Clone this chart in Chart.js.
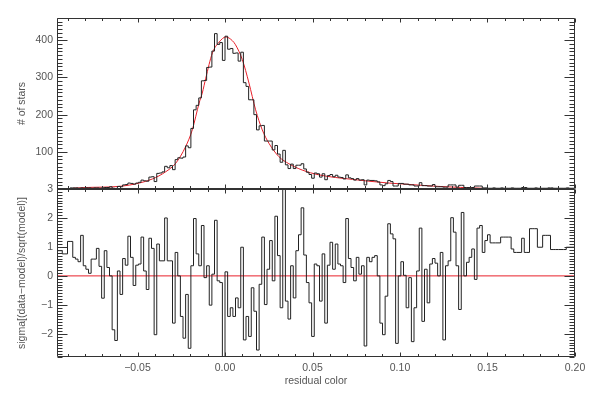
<!DOCTYPE html>
<html>
<head>
<meta charset="utf-8">
<script src="https://cdn.jsdelivr.net/npm/chart.js@4.4.1/dist/chart.umd.min.js"></script>
<style>
    html, body { margin: 0; padding: 0; background: #fff; }
    #wrap { width: 592px; height: 395px; }
</style>
</head>
<body>
<div id="wrap"><canvas id="chart__residuals" width="592" height="395"></canvas></div>
<script>
// histogram bins (left edge of first bin, bin width)
const binStart = -0.096
const binWidth = 0.0015

// number of stars per bin
const starCounts = [
    1, 1, 0, 1, 1, 3, 3, 3, 2, 3, 2, 3, 3, 2, 3, 3, 2, 3, 4, 4,
    6, 2, 1, 7, 6, 11, 12, 16, 15, 13, 16, 18, 24, 22, 21, 32, 33, 20, 42, 43,
    46, 61, 57, 63, 52, 79, 84, 83, 86, 116, 111, 163, 213, 225, 245, 291, 292, 327, 328, 371,
    418, 389, 394, 346, 411, 376, 378, 365, 366, 344, 368, 286, 276, 240, 240, 200, 159, 170, 171, 129,
    129, 129, 105, 117, 94, 72, 104, 65, 55, 67, 55, 64, 64, 68, 54, 45, 39, 29, 43, 41,
    32, 41, 25, 36, 39, 33, 37, 32, 31, 27, 38, 30, 28, 24, 28, 24, 25, 11, 24, 23,
    23, 22, 19, 11, 9, 14, 23, 20, 8, 8, 15, 15, 13, 13, 11, 11, 8, 8, 17, 9,
    9, 8, 8, 12, 6, 6, 6, 5, 5, 11, 11, 11, 5, 10, 10, 4, 4, 4, 4, 8,
    8, 8, 3, 3, 2, 2, 3, 2, 2, 3, 2, 2, 2, 3, 2, 2, 2, 4, 4, 2,
    2, 2, 3, 2, 2, 2, 2, 3, 3, 2, 2, 2, 2, 2, 3, 2, 2
]

// sigma[(data-model)/sqrt(model)] per bin
const residuals = [
    0.87, 0.87, 0.76, 0.76, 1.19, 1.19, 0.64, 0.58, 0.49, 1.40,
    0.35, 0.23, 0.09, 0.58, 0.58, 0.95, 0.33, -0.77, 0.87, 0.29,
    0.00, -1.86, -2.23, 0.17, -0.64, 0.60, 0.37, 1.37, 0.64, -0.33,
    0.37, 0.41, 1.34, 0.17, -0.47, 1.30, 0.95, -2.03, 1.10, 0.52,
    0.52, 2.00, 0.52, 0.52, -1.63, 0.81, 0.00, -1.40, -2.15, -0.64,
    -2.50, 0.35, 1.98, 0.76, 0.35, 1.74, -0.06, 0.35, -1.01, 0.06,
    1.92, -0.17, -0.23, -2.90, 0.14, -1.40, -1.10, -1.40, -0.76, -1.10,
    0.99, -2.21, -1.40, -2.09, -0.41, -1.22, -2.56, -0.29, 1.34, -0.99,
    0.23, 1.22, -0.17, 2.06, 0.70, -1.10, 3.02, -0.87, -1.49, 0.35,
    -0.76, 0.87, 1.42, 2.35, 0.72, -0.23, -0.93, -2.09, 0.41, 0.35,
    -0.87, 0.76, -1.63, 0.37, 1.16, 0.23, 1.10, 0.41, 0.35, -0.23,
    1.98, 0.60, 0.29, -0.17, 0.64, 0.06, 0.35, -2.42, 0.64, 0.49,
    0.64, 0.70, 0.00, -1.63, -2.03, -0.70, 1.80, 1.45, 1.28, -2.33,
    0.00, 0.49, 0.02, -1.10, -0.06, -2.27, -1.10, 0.17, 1.65, -1.57,
    0.23, -0.93, 0.41, 0.60, 0.44, 0.00, 0.81, -2.21, 0.35, 0.52,
    2.01, 1.51, 0.35, -1.16, 2.19, 0.00, 0.47, 0.64, 0.93, -0.12,
    1.65, 1.74, 0.81, 1.22, 1.42, 1.14, 1.14, 1.14, 1.14, 1.34,
    1.34, 1.34, 1.34, 0.93, 0.81, 0.81, 0.81, 1.30, 0.81, 0.81,
    1.63, 1.63, 1.63, 0.99, 0.99, 1.40, 1.40, 1.40, 0.91, 0.91,
    0.91, 0.91, 0.91, 0.91, 0.99, 0.99, 0.99
]

// fitted model curve (red)
const modelX = [-0.087, -0.0796, -0.0605, -0.049, -0.0415, -0.034, -0.0282, -0.0225, -0.0187, -0.0148,
    -0.013, -0.011, -0.0072, -0.0034, 0.0005, 0.0042, 0.006, 0.0099, 0.0137, 0.0175,
    0.0213, 0.0251, 0.0308, 0.0365, 0.0441, 0.0537, 0.0631, 0.0727, 0.0822, 0.0936,
    0.103, 0.122, 0.147]
const modelY = [2, 4, 7, 16, 27, 46, 69, 114, 159, 231,
    258, 298, 366, 395, 409, 399, 388, 348, 285, 213,
    159, 123, 87, 68, 51, 38, 31, 26, 21, 16,
    13, 7, 2]

const xTicks = [-0.05, 0, 0.05, 0.10, 0.15, 0.20]
const xTickLabels = ['\u22120.05', '0.00', '0.05', '0.10', '0.15', '0.20']
const countTicks = [100, 200, 300, 400]
const residualTicks = [-2, -1, 0, 1, 2, 3]
const residualTickLabels = ['\u22122', '\u22121', '0', '1', '2', '3']

const textColor = '#555'
const fontFamily = "'Liberation Sans', Arial, sans-serif"

// one point per bin left edge, plus the closing right edge
const histPoints = starCounts.map((v, i) => ({ x: binStart + i * binWidth, y: v }))
histPoints.push({ x: binStart + starCounts.length * binWidth, y: starCounts[starCounts.length - 1] })
const residualPoints = residuals.map((v, i) => ({ x: binStart + i * binWidth, y: v }))
residualPoints.push({ x: binStart + residuals.length * binWidth, y: residuals[residuals.length - 1] })

// IDL style frame: box around each panel, ticks pointing inwards
const frameTicks = {
    id: 'frameTicks',
    afterDatasetsDraw(chart) {
        const ctx = chart.ctx
        const xs = chart.scales.x
        const left = Math.round(chart.chartArea.left) + 0.5
        const right = Math.round(chart.chartArea.right) - 0.5
        const panels = [
            { scale: chart.scales.yHist, major: 100, minor: 10 },
            { scale: chart.scales.yRes, major: 1, minor: 0.1 }
        ]
        ctx.save()
        ctx.strokeStyle = '#333'
        ctx.lineWidth = 1
        ctx.beginPath()
        panels.forEach(p => {
            const s = p.scale
            const top = Math.round(s.top) + 0.5
            const bottom = Math.round(s.bottom) - 0.5
            ctx.rect(left, top, right - left, bottom - top)
            const every = Math.round(p.major / p.minor)
            const k0 = Math.ceil(s.min / p.minor - 1e-6)
            const k1 = Math.floor(s.max / p.minor + 1e-6)
            for (let k = k0; k <= k1; k++) {
                const y = Math.round(s.getPixelForValue(k * p.minor)) + 0.5
                const len = k % every === 0 ? 10 : 5
                ctx.moveTo(left, y); ctx.lineTo(left + len, y)
                ctx.moveTo(right, y); ctx.lineTo(right - len, y)
            }
            const j0 = Math.ceil(xs.min / 0.01 - 1e-6)
            const j1 = Math.floor(xs.max / 0.01 + 1e-6)
            for (let j = j0; j <= j1; j++) {
                const x = Math.round(xs.getPixelForValue(j * 0.01)) + 0.5
                const len = j % 5 === 0 ? 4 : 2.5
                ctx.moveTo(x, top); ctx.lineTo(x, top + len)
                ctx.moveTo(x, bottom); ctx.lineTo(x, bottom - len)
            }
        })
        ctx.stroke()
        ctx.restore()
    }
}

new Chart(
    document.getElementById('chart__residuals'),
    {
        type: 'line',
        data: {
            datasets: [
                {
                    label: 'stars',
                    data: histPoints,
                    xAxisID: 'x',
                    yAxisID: 'yHist',
                    stepped: 'before',
                    borderColor: '#222',
                    borderWidth: 1,
                    pointRadius: 0,
                    fill: false
                },
                {
                    label: 'model',
                    data: modelX.map((x, i) => ({ x: x, y: modelY[i] })),
                    xAxisID: 'x',
                    yAxisID: 'yHist',
                    borderColor: '#e8202a',
                    borderWidth: 1,
                    pointRadius: 0,
                    cubicInterpolationMode: 'monotone',
                    fill: false
                },
                {
                    label: 'residual',
                    data: residualPoints,
                    xAxisID: 'x',
                    yAxisID: 'yRes',
                    stepped: 'before',
                    borderColor: '#222',
                    borderWidth: 1,
                    pointRadius: 0,
                    fill: false
                },
                {
                    label: 'zero',
                    data: [{ x: -0.096, y: 0 }, { x: 0.20, y: 0 }],
                    xAxisID: 'x',
                    yAxisID: 'yRes',
                    borderColor: '#e8202a',
                    borderWidth: 1,
                    pointRadius: 0,
                    fill: false
                }
            ]
        },
        options: {
            responsive: false,
            animation: false,
            devicePixelRatio: 1,
            layout: { padding: { top: 18, right: 17, left: 0, bottom: 0 } },
            plugins: {
                legend: { display: false },
                tooltip: { enabled: false }
            },
            scales: {
                x: {
                    type: 'linear',
                    position: 'bottom',
                    min: -0.096,
                    max: 0.20,
                    grid: { display: false, drawTicks: false },
                    border: { display: false },
                    afterBuildTicks: scale => { scale.ticks = xTicks.map(v => ({ value: v })) },
                    afterFit: scale => { scale.height = 38 },
                    ticks: {
                        padding: 5,
                        color: textColor,
                        font: { family: fontFamily, size: 10.5 },
                        maxRotation: 0,
                        callback: (v) => xTickLabels[xTicks.findIndex(t => Math.abs(t - v) < 1e-9)]
                    },
                    title: {
                        display: true,
                        text: 'residual color',
                        color: textColor,
                        font: { family: fontFamily, size: 10.5 },
                        padding: { top: 0, bottom: 8 }
                    }
                },
                yRes: {
                    type: 'linear',
                    position: 'left',
                    stack: 'panels',
                    stackWeight: 168,
                    min: -2.8,
                    max: 3,
                    grid: { display: false, drawTicks: false },
                    border: { display: false },
                    afterBuildTicks: scale => { scale.ticks = residualTicks.map(v => ({ value: v })) },
                    afterFit: scale => { scale.width = 57 },
                    ticks: {
                        padding: 4,
                        color: textColor,
                        font: { family: fontFamily, size: 10.5 },
                        callback: (v) => residualTickLabels[residualTicks.indexOf(v)]
                    },
                    title: {
                        display: true,
                        text: 'sigma[(data\u2212model)/sqrt(model)]',
                        color: textColor,
                        font: { family: fontFamily, size: 10.5 },
                        padding: { top: 16, bottom: 0 }
                    }
                },
                yHist: {
                    type: 'linear',
                    position: 'left',
                    stack: 'panels',
                    stackWeight: 171,
                    min: 0,
                    max: 460,
                    grid: { display: false, drawTicks: false },
                    border: { display: false },
                    afterBuildTicks: scale => { scale.ticks = countTicks.map(v => ({ value: v })) },
                    afterFit: scale => { scale.width = 57 },
                    ticks: {
                        padding: 4,
                        color: textColor,
                        font: { family: fontFamily, size: 10.5 }
                    },
                    title: {
                        display: true,
                        text: '# of stars',
                        color: textColor,
                        font: { family: fontFamily, size: 10.5 },
                        padding: { top: 16, bottom: 0 }
                    }
                }
            }
        },
        plugins: [frameTicks]
    }
);
</script>
</body>
</html>
